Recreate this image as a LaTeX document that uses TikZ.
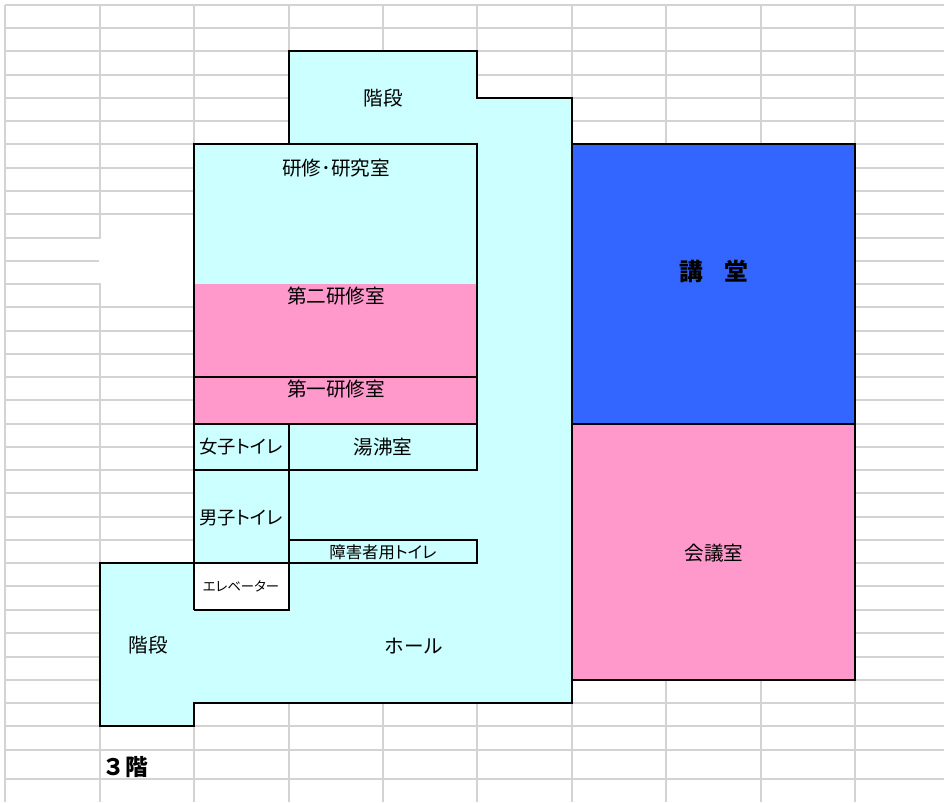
\documentclass[tikz,border=0pt]{standalone}
\usepackage{fontspec}
\setmainfont{Noto Sans CJK JP}
\newfontfamily\paltfont[RawFeature=+palt]{Noto Sans CJK JP}
\definecolor{gridgray}{HTML}{D3D3D3}
\definecolor{hallcyan}{HTML}{CCFFFF}
\definecolor{roompink}{HTML}{FF99CC}
\definecolor{roomblue}{HTML}{3366FF}
\begin{document}
\begin{tikzpicture}[x=.75pt, y=-.75pt, line join=miter, font=\fontsize{14.7}{17}\selectfont]
	\tikzset{wall/.style={draw=black, line width=1.2pt}}
	\tikzset{cellline/.style={draw=gridgray, line width=1.1pt}}
	\useasboundingbox (0,0) rectangle (944,802);
	% sheet cells
	\foreach \x in {5,100,194,289,383,477,572,666,761,855}
	\draw[cellline] (\x,5)--(\x,802);
	\foreach \y in {5,28,51,75,98,121,144,168,191,214,238,261,284,307,331,354,377,400,424,447,470,493,517,540,563,586,610,633,657,680,703,726,750,779}
	\draw[cellline] (5,\y)--(944,\y);
	\fill[white] (101,215) rectangle (193,306.2);
	\fill[white] (99,238.8) rectangle (102,283.2);
	% floor
	\fill[hallcyan] (289,144)--(289,51)--(477,51)--(477,98)--(572,98)--(572,703)--(194,703)--(194,726)--(100,726)--(100,563)--(194,563)--(194,144)--cycle;
	\fill[roompink] (194,283.5) rectangle (477,424);
	\fill[roomblue] (572,144) rectangle (855,424);
	\fill[roompink] (572,424) rectangle (855,680);
	\fill[white] (194,563) rectangle (289,610);
	% walls
	\draw[wall] (289,144)--(289,51)--(477,51)--(477,98)--(572,98)--(572,703)--(194,703)--(194,726)--(100,726)--(100,563)--(289,563);
	\draw[wall] (194,610)--(194,144)--(477,144)--(477,470)--(194,470);
	\draw[wall] (194,377)--(477,377);
	\draw[wall] (194,424)--(477,424);
	\draw[wall] (289,424)--(289,610)--(194,610);
	\draw[wall] (289,540)--(477,540)--(477,563)--(289,563);
	\draw[wall] (572,144)--(855,144)--(855,680)--(572,680);
	\draw[wall] (572,424)--(855,424);
	% labels
	\node (stairsn) at (383,98) {階段};
	\node (study) at (336,168) {研修･研究室};
	\node (room2) at (336,296) {第二研修室};
	\node (room1) at (336,389) {第一研修室};
	\node[font=\fontsize{13.8}{17}\paltfont] (ladies) at (241,447) {女子トイレ};
	\node (kettle) at (383,447) {湯沸室};
	\node[font=\fontsize{13.8}{17}\paltfont] (mens) at (241,518) {男子トイレ};
	\node[font=\fontsize{12.3}{14}\paltfont] (access) at (383,552) {障害者用トイレ};
	\node[font=\fontsize{10}{12}\paltfont] (lift) at (241,586) {エレベーター};
	\node (stairss) at (148,645) {階段};
	\node (hall) at (414,646) {ホール};
	\node[font=\fontsize{17.8}{20}\selectfont\bfseries] (lecture) at (714,271) {講\hspace{.9em}堂};
	\node (meeting) at (714,553) {会議室};
	\node[font=\fontsize{17}{20}\selectfont\bfseries] (floor) at (125.5,767) {３階};
\end{tikzpicture}
\end{document}
